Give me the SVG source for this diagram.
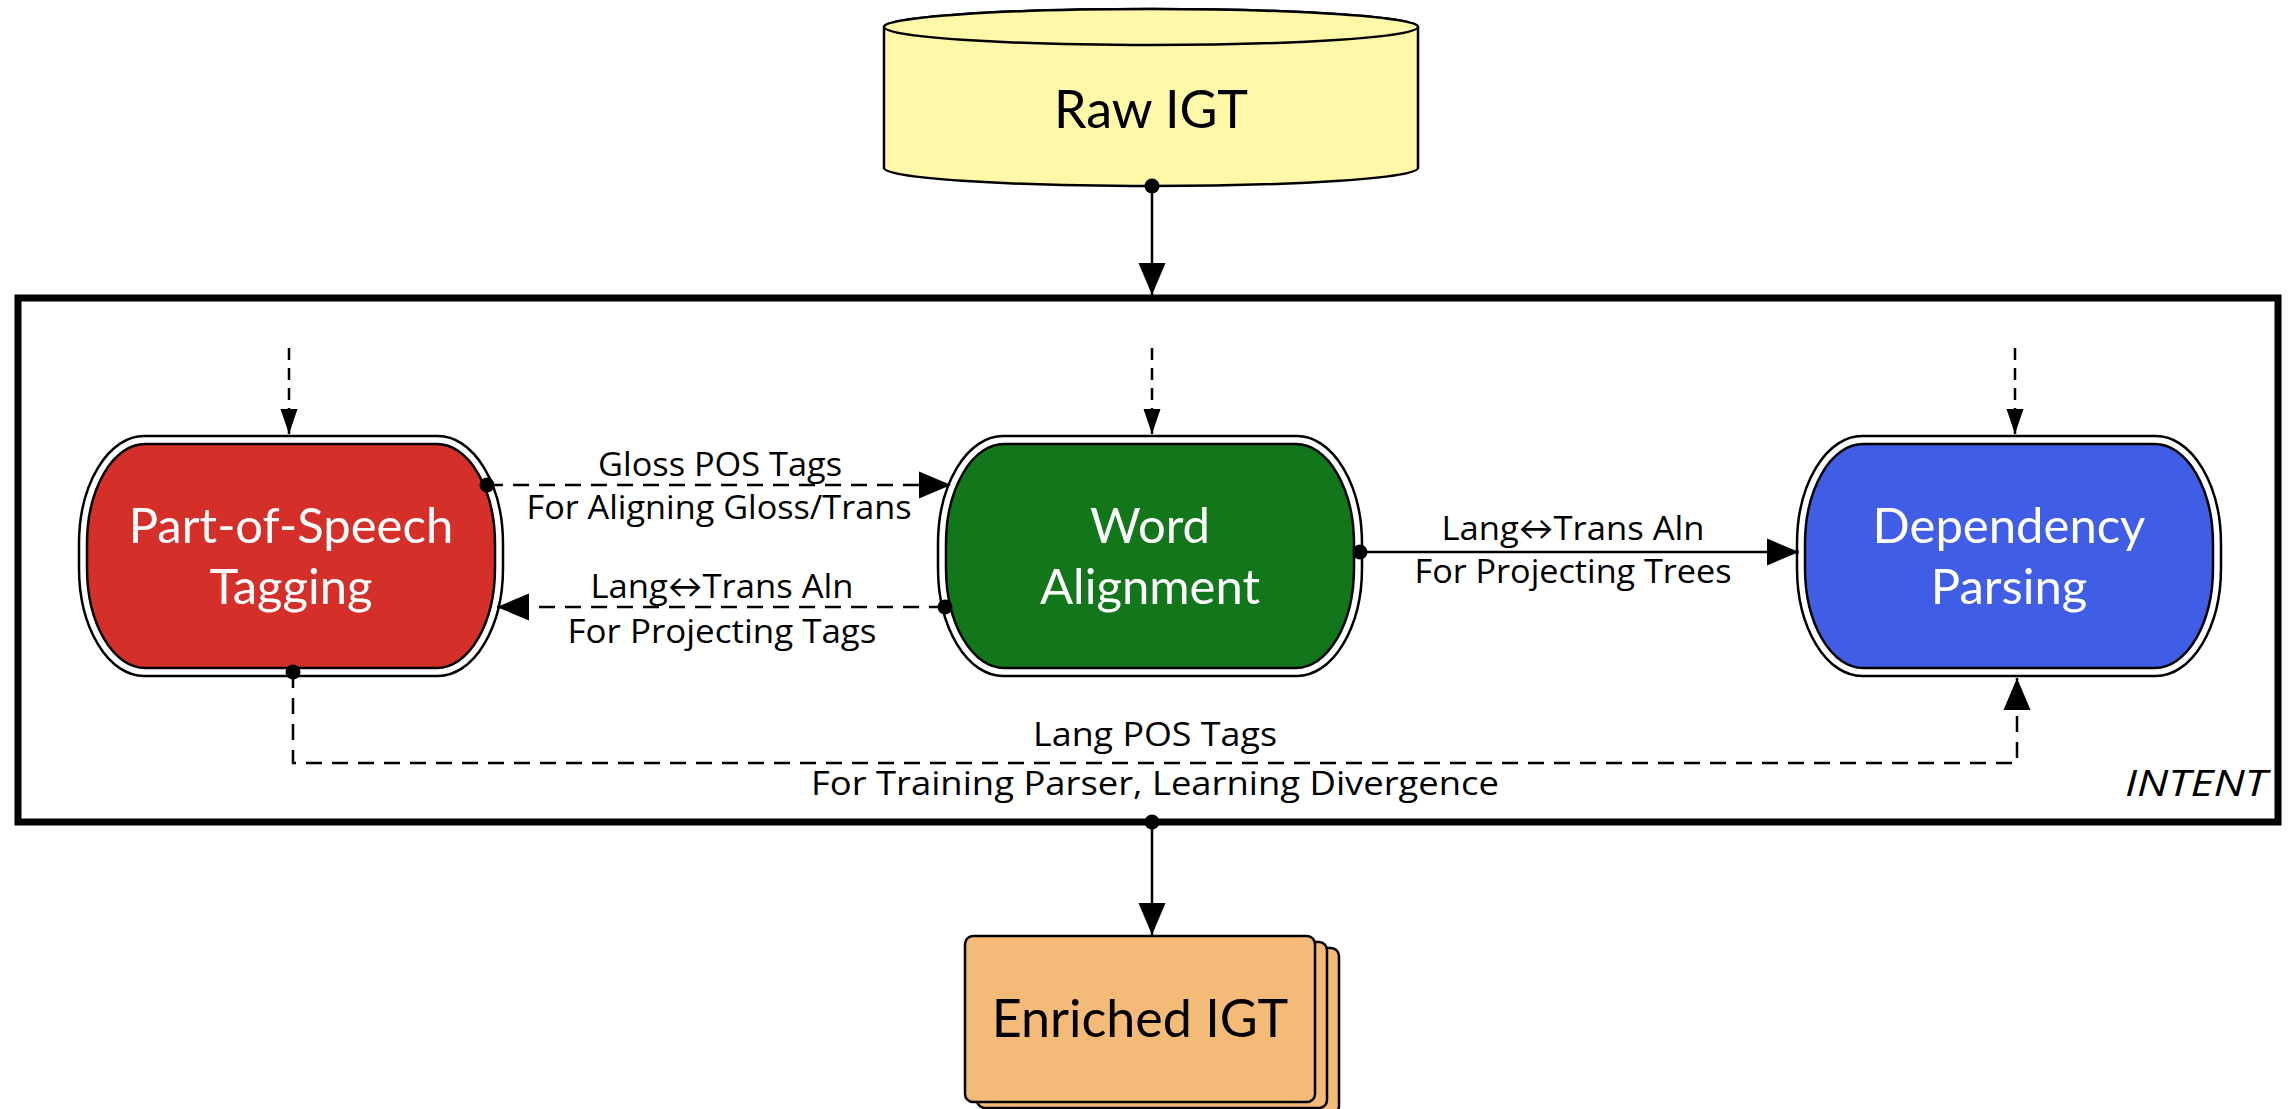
<svg xmlns="http://www.w3.org/2000/svg" width="2295" height="1109" viewBox="0 0 2295 1109">
<style>
.lbl{font-family:"Open Sans",Lato,"Liberation Sans",sans-serif;font-size:33px;fill:#000;text-anchor:middle}
.nt{font-family:Lato,"Open Sans","Liberation Sans",sans-serif;font-size:49px;fill:#fff;text-anchor:middle}
.bt{font-family:Lato,"Open Sans","Liberation Sans",sans-serif;font-size:52px;fill:#000;text-anchor:middle}
.outer{fill:#fff;stroke:#000;stroke-width:2.5}
.inner{stroke:#000;stroke-width:2.5}
.ln{fill:none;stroke:#000;stroke-width:2.5}
.dash{stroke-dasharray:16 10}
.sdash{stroke-dasharray:12 8}
.dot{fill:#000}
</style>
<defs>
<marker id="ab" markerUnits="userSpaceOnUse" markerWidth="32" markerHeight="27" refX="32" refY="13.5" orient="auto" overflow="visible">
<path d="M0,0 L32,13.5 L0,27 Z" fill="#000"/>
</marker>
<marker id="as" markerUnits="userSpaceOnUse" markerWidth="25" markerHeight="17" refX="25" refY="8.5" orient="auto" overflow="visible">
<path d="M0,0 L25,8.5 L0,17 Z" fill="#000"/>
</marker>
</defs>
<rect width="2295" height="1109" fill="#fff"/>

<g id="raw-igt">
<path d="M884,27 L884,168 A267,18 0 0 0 1418,168 L1418,27 A267,18 0 0 0 884,27 Z" fill="#FFF8A8" stroke="#000" stroke-width="2.5"/>
<ellipse cx="1151" cy="27" rx="267" ry="18" fill="#FFF8A8" stroke="#000" stroke-width="2.5"/>
<text class="bt" x="1151" y="128">Raw IGT</text>
</g>

<g id="intent">
<rect x="18" y="298" width="2260" height="524" fill="none" stroke="#000" stroke-width="7"/>
<text x="2267" y="796" text-anchor="end" font-family="'Open Sans',Lato,'Liberation Sans',sans-serif" font-size="36" font-style="italic" textLength="142" lengthAdjust="spacingAndGlyphs">INTENT</text>
</g>

<g id="pos-tagging">
<rect class="outer" x="79" y="436" width="424" height="240" rx="65" ry="108"/>
<rect class="inner" x="87" y="444" width="408" height="224" rx="58" ry="100" fill="#D52F29"/>
<text class="nt" x="291" y="543">Part-of-Speech</text>
<text class="nt" x="291" y="604">Tagging</text>
</g>

<g id="word-alignment">
<rect class="outer" x="938" y="436" width="424" height="240" rx="65" ry="108"/>
<rect class="inner" x="946" y="444" width="408" height="224" rx="58" ry="100" fill="#12771B"/>
<text class="nt" x="1150" y="543">Word</text>
<text class="nt" x="1150" y="604">Alignment</text>
</g>

<g id="dependency-parsing">
<rect class="outer" x="1797" y="436" width="424" height="240" rx="65" ry="108"/>
<rect class="inner" x="1805" y="444" width="408" height="224" rx="58" ry="100" fill="#405DE5"/>
<text class="nt" x="2009" y="543">Dependency</text>
<text class="nt" x="2009" y="604">Parsing</text>
</g>

<g id="enriched-igt">
<rect x="989" y="948" width="350" height="166" rx="8" fill="#F4BA77" stroke="#000" stroke-width="2.5"/>
<rect x="977" y="942" width="350" height="166" rx="8" fill="#F4BA77" stroke="#000" stroke-width="2.5"/>
<rect x="965" y="936" width="350" height="166" rx="8" fill="#F4BA77" stroke="#000" stroke-width="2.5"/>
<text class="bt" x="1140" y="1037">Enriched IGT</text>
</g>

<g id="connectors">
<line class="ln" x1="1152" y1="186" x2="1152" y2="295" marker-end="url(#ab)"/>
<circle class="dot" cx="1152" cy="186" r="7.5"/>
<line class="ln sdash" x1="289" y1="348" x2="289" y2="434" marker-end="url(#as)"/>
<line class="ln sdash" x1="1152" y1="348" x2="1152" y2="434" marker-end="url(#as)"/>
<line class="ln sdash" x1="2015" y1="348" x2="2015" y2="434" marker-end="url(#as)"/>
<line class="ln dash" x1="487" y1="485" x2="951" y2="485" marker-end="url(#ab)"/>
<circle class="dot" cx="487" cy="485" r="7.5"/>
<text class="lbl" x="720" y="476" textLength="244" lengthAdjust="spacingAndGlyphs">Gloss POS Tags</text>
<text class="lbl" x="719" y="519" textLength="385" lengthAdjust="spacingAndGlyphs">For Aligning Gloss/Trans</text>
<line class="ln dash" x1="945" y1="607" x2="497" y2="607" marker-end="url(#ab)"/>
<circle class="dot" cx="945" cy="607" r="7.5"/>
<text class="lbl" x="722" y="598" textLength="263" lengthAdjust="spacingAndGlyphs">Lang↔Trans Aln</text>
<text class="lbl" x="722" y="643" textLength="309" lengthAdjust="spacingAndGlyphs">For Projecting Tags</text>
<line class="ln" x1="1360" y1="552" x2="1799" y2="552" marker-end="url(#ab)"/>
<circle class="dot" cx="1360" cy="552" r="7.5"/>
<text class="lbl" x="1573" y="540" textLength="263" lengthAdjust="spacingAndGlyphs">Lang↔Trans Aln</text>
<text class="lbl" x="1573" y="583" textLength="317" lengthAdjust="spacingAndGlyphs">For Projecting Trees</text>
<path class="ln dash" d="M293,672 L293,763 L2017,763 L2017,678" marker-end="url(#ab)"/>
<circle class="dot" cx="293" cy="672" r="7.5"/>
<text class="lbl" x="1155" y="746" textLength="244" lengthAdjust="spacingAndGlyphs">Lang POS Tags</text>
<text class="lbl" x="1155" y="795" textLength="688" lengthAdjust="spacingAndGlyphs">For Training Parser, Learning Divergence</text>
<line class="ln" x1="1152" y1="822" x2="1152" y2="935" marker-end="url(#ab)"/>
<circle class="dot" cx="1152" cy="822" r="7.5"/>
</g>
</svg>
